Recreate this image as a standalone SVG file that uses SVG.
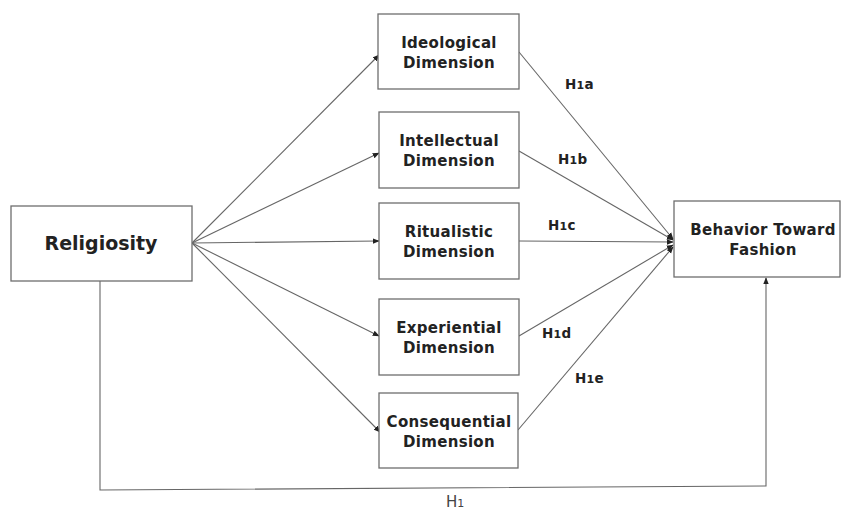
<svg xmlns="http://www.w3.org/2000/svg" width="842" height="512" viewBox="0 0 842 512">
<style>
.box{fill:#fff;stroke:#6e6e6e;stroke-width:1.3}
.lbl{font-family:"DejaVu Sans","Liberation Sans",sans-serif;font-weight:bold;fill:#222;text-anchor:middle}
.bl{font-size:15px;letter-spacing:0.3px}
.h{font-family:"DejaVu Sans","Liberation Sans",sans-serif;font-weight:bold;font-size:13.5px;fill:#222;letter-spacing:0.3px}
.con{fill:none;stroke:#666;stroke-width:1.1}
</style>
<defs>
<marker id="ah" viewBox="0 0 10 10" refX="9" refY="5" markerWidth="7" markerHeight="7" markerUnits="userSpaceOnUse" orient="auto">
<path d="M0,1 L10,5 L0,9 Z" fill="#222"/>
</marker>
</defs>
<rect width="842" height="512" fill="#fff"/>
<g id="connectors">
<path class="con" marker-end="url(#ah)" d="M192,243 L379,55"/>
<path class="con" marker-end="url(#ah)" d="M192,243 L379,153"/>
<path class="con" marker-end="url(#ah)" d="M192,243 L379,241"/>
<path class="con" marker-end="url(#ah)" d="M192,243 L379,336"/>
<path class="con" marker-end="url(#ah)" d="M192,243 L380,432"/>
<path class="con" marker-end="url(#ah)" d="M519,52 L673,239"/>
<path class="con" marker-end="url(#ah)" d="M519,151 L673,240"/>
<path class="con" marker-end="url(#ah)" d="M519,241 L673,242"/>
<path class="con" marker-end="url(#ah)" d="M519,336 L673,245"/>
<path class="con" marker-end="url(#ah)" d="M518,430 L673,247"/>
<path class="con" marker-end="url(#ah)" d="M100,281 L100,490 L766,486 L766,278"/>
<text class="h" x="565" y="89">H<tspan font-size="11">1</tspan>a</text>
<text class="h" x="558" y="164">H<tspan font-size="11">1</tspan>b</text>
<text class="h" x="548" y="230">H<tspan font-size="11">1</tspan>c</text>
<text class="h" x="542" y="338">H<tspan font-size="11">1</tspan>d</text>
<text class="h" x="575" y="383">H<tspan font-size="11">1</tspan>e</text>
<text x="446" y="507" font-family="'DejaVu Sans','Liberation Sans',sans-serif" font-size="15" fill="#444">H<tspan font-size="11">1</tspan></text>
</g>
<g id="religiosity">
<rect class="box" x="11" y="206" width="181" height="75"/>
<text class="lbl" x="101" y="250" font-size="19">Religiosity</text>
</g>
<g id="ideological">
<rect class="box" x="378" y="14" width="141" height="75"/>
<text class="lbl bl" x="449" y="48">Ideological</text>
<text class="lbl bl" x="449" y="68">Dimension</text>
</g>
<g id="intellectual">
<rect class="box" x="379" y="112" width="140" height="76"/>
<text class="lbl bl" x="449" y="146">Intellectual</text>
<text class="lbl bl" x="449" y="166">Dimension</text>
</g>
<g id="ritualistic">
<rect class="box" x="379" y="203" width="140" height="76"/>
<text class="lbl bl" x="449" y="237">Ritualistic</text>
<text class="lbl bl" x="449" y="257">Dimension</text>
</g>
<g id="experiential">
<rect class="box" x="379" y="299" width="140" height="76"/>
<text class="lbl bl" x="449" y="333">Experiential</text>
<text class="lbl bl" x="449" y="353">Dimension</text>
</g>
<g id="consequential">
<rect class="box" x="379" y="393" width="139" height="75"/>
<text class="lbl bl" x="449" y="427">Consequential</text>
<text class="lbl bl" x="449" y="447">Dimension</text>
</g>
<g id="behavior">
<rect class="box" x="674" y="201" width="166" height="76"/>
<text class="lbl bl" x="763" y="235">Behavior Toward</text>
<text class="lbl bl" x="763" y="255">Fashion</text>
</g>
</svg>
